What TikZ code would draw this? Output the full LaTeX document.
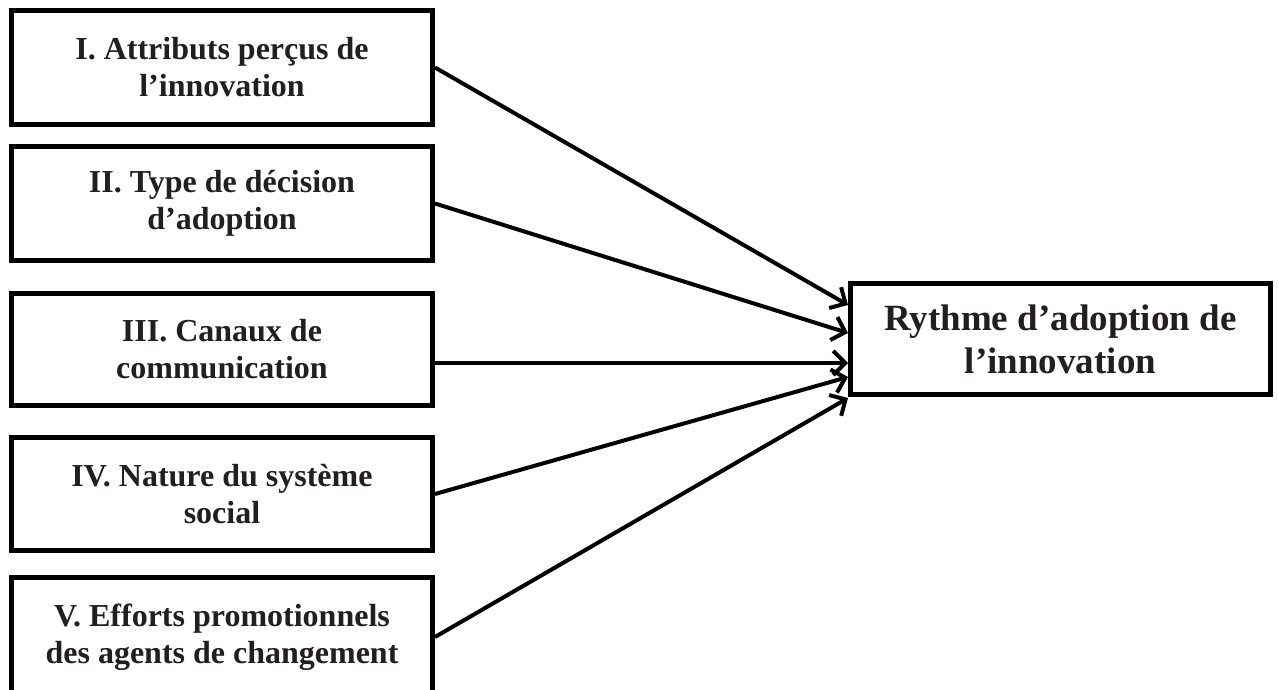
\documentclass[tikz,border=0pt]{standalone}
\usepackage{fontspec}
\setmainfont{Liberation Serif}
\usetikzlibrary{arrows.meta}
\definecolor{ink}{RGB}{35,31,32}
\begin{document}
\begin{tikzpicture}[x=1pt,y=-1pt,
  srcbox/.style={draw=black, line width=5pt, minimum width=421pt, inner sep=0pt,
    align=center, text=ink, font=\fontsize{32}{37}\selectfont\bfseries},
  resbox/.style={draw=black, line width=5pt, minimum width=420pt, minimum height=111pt,
    inner sep=0pt, align=center, text=ink, font=\fontsize{37}{43}\selectfont\bfseries},
  conn/.style={line width=4pt, -{Straight Barb[length=12pt,width=24pt]}}]
\useasboundingbox (0,0) rectangle (1278,689);
\fill[white] (0,0) rectangle (1278,689);
\node[srcbox, minimum height=114pt] (b1) at (222,67.5) {I. Attributs perçus de\\l’innovation};
\node[srcbox, minimum height=114pt] (b2) at (222,203.5) {II. Type de décision\\d’adoption};
\node[srcbox, minimum height=112pt] (b3) at (222,349.5) {III. Canaux de\\communication};
\node[srcbox, minimum height=113pt] (b4) at (222,494) {IV. Nature du système\\social};
\node[srcbox, minimum height=119pt] (b5) at (222,637) {V. Efforts promotionnels\\des agents de changement};
\node[resbox] (R) at (1060.5,339) {Rythme d’adoption de\\l’innovation};
\path (R.west |- 0,305) coordinate (e1);
\path (R.west |- 0,333) coordinate (e2);
\path (R.west |- 0,363) coordinate (e3);
\path (R.west |- 0,377) coordinate (e4);
\path (R.west |- 0,398) coordinate (e5);
\draw[conn] (b1.east) -- (e1);
\draw[conn] (b2.east) -- (e2);
\draw[conn] (b3.east |- e3) -- (e3);
\draw[conn] (b4.east) -- (e4);
\draw[conn] (b5.east) -- (e5);
\end{tikzpicture}
\end{document}
